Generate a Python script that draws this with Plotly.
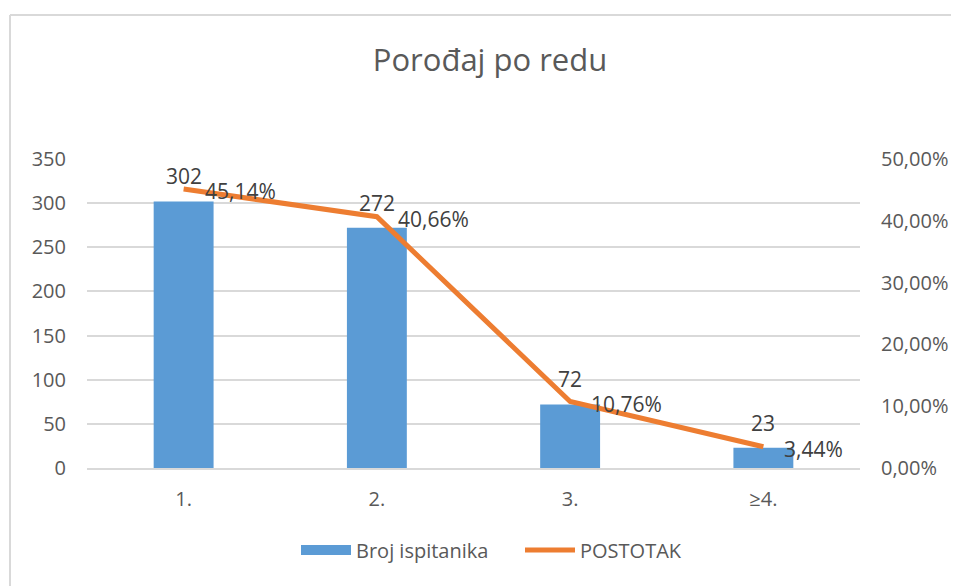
import plotly.graph_objects as go

categories = ["1.", "2.", "3.", "≥4."]
broj_ispitanika = [302, 272, 72, 23]
postotak = [0.4514, 0.4066, 0.1076, 0.0344]
left_ticks = [0, 50, 100, 150, 200, 250, 300, 350]
right_ticks = [0, 0.1, 0.2, 0.3, 0.4, 0.5]

# page body has an 8px margin, so the figure is offset by 8px
OFF = 8
W, H = 959 - OFF, 586 - OFF
ML, MR, MT, MB = 87 - OFF, 99, 159 - OFF, 118
PW, PH = W - ML - MR, H - MT - MB

def px_x(p):  # page pixel -> paper x
    return (p - OFF - ML) / PW

def px_y(p):  # page pixel -> paper y
    return (H - MB - (p - OFF)) / PH

FONT = "Open Sans"
TXT = "#404040"
AX = "#595959"
pct_text = [f"{v*100:.2f}".replace(".", ",") + "%" for v in postotak]

fig = go.Figure()
fig.add_trace(go.Bar(
    x=categories, y=broj_ispitanika, name="Broj ispitanika",
    marker=dict(color="#5B9BD5", line=dict(width=0)),
    yaxis="y", showlegend=False,
))
fig.add_trace(go.Scatter(
    x=[None], y=[None], name="Broj ispitanika", mode="lines",
    line=dict(color="#5B9BD5", width=12), showlegend=True,
))
fig.add_trace(go.Scatter(
    x=categories, y=postotak, name="POSTOTAK", mode="lines",
    line=dict(color="#ED7D31", width=5),
    cliponaxis=False, yaxis="y2",
))

annotations = []
for i, v in enumerate(broj_ispitanika):
    annotations.append(dict(x=i, y=v, xref="x", yref="y", text=str(v),
                            showarrow=False, xanchor="center", yanchor="middle",
                            yshift=25, font=dict(family=FONT, size=21, color=TXT)))
for i, (v, t) in enumerate(zip(postotak, pct_text)):
    annotations.append(dict(x=i, y=v, xref="x", yref="y2", text=t,
                            showarrow=False, xanchor="left", yanchor="middle",
                            xshift=19, yshift=-2, font=dict(family=FONT, size=21, color=TXT)))

fig.update_layout(
    width=W, height=H,
    margin=dict(l=ML, r=MR, t=MT, b=MB),
    paper_bgcolor="white", plot_bgcolor="white",
    separators=",.",
    font=dict(family=FONT, color=AX),
    title=dict(text="Porođaj po redu", x=(490 - OFF) / W, xanchor="center",
               y=1 - (60 - OFF) / H, yanchor="middle",
               font=dict(family=FONT, size=31, color=AX)),
    bargap=0.69,
    xaxis=dict(showgrid=False, showline=True, linecolor="#D9D9D9", linewidth=1.5,
               ticks="", tickfont=dict(size=20, color=AX),
               ticklabelstandoff=12),
    yaxis=dict(range=[0, 350], tickvals=left_ticks, showgrid=True,
               gridcolor="#D9D9D9", gridwidth=1.5, zeroline=False,
               tickfont=dict(size=20, color=AX), ticklabelstandoff=20),
    yaxis2=dict(range=[0, 0.5], tickvals=right_ticks, tickformat=".2%",
                overlaying="y", side="right", showgrid=False, zeroline=False,
                tickfont=dict(size=20, color=AX), ticklabelstandoff=20),
    legend=dict(orientation="h", x=px_x(296), xanchor="left",
                y=px_y(550), yanchor="middle",
                font=dict(size=20, color=AX), itemwidth=50,
                entrywidth=159, entrywidthmode="pixels"),
    showlegend=True,
    annotations=annotations,
)

fig.add_shape(type="line", xref="paper", yref="paper",
              x0=px_x(10), x1=px_x(10), y0=px_y(15), y1=px_y(600),
              line=dict(color="#D9D9D9", width=2))
fig.add_shape(type="line", xref="paper", yref="paper",
              x0=px_x(10), x1=px_x(960), y0=px_y(15), y1=px_y(15),
              line=dict(color="#D9D9D9", width=2))

fig.write_html("out.html")
